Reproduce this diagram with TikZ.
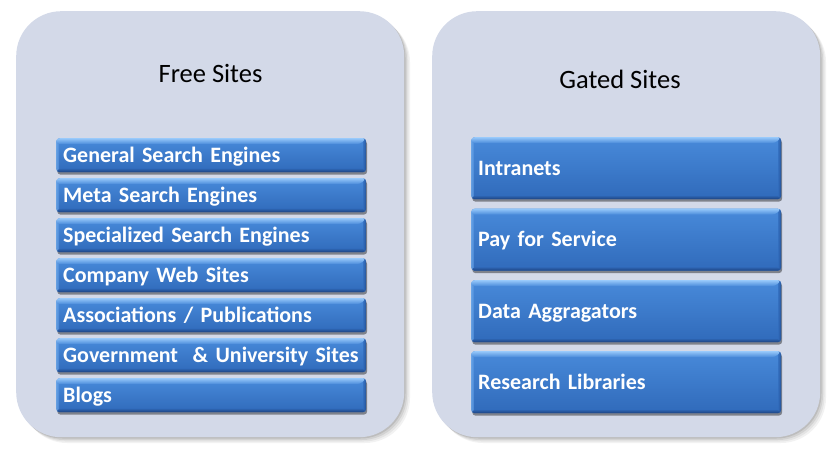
\documentclass[tikz,border=0pt]{standalone}
\usepackage{fontspec}
\setmainfont{Carlito}
\usetikzlibrary{shadows}
\definecolor{panelfill}{RGB}{211,217,232}
\definecolor{bartop}{RGB}{72,138,218}
\definecolor{barbot}{RGB}{48,106,186}
\definecolor{barlight}{RGB}{150,200,250}
\definecolor{bardark}{RGB}{28,66,128}
\tikzset{
  panel/.style={anchor=north west, fill=panelfill, rounded corners=45pt,
    minimum width=388pt, minimum height=426pt, inner sep=0pt},
  title/.style={anchor=base, font=\fontsize{26.5}{30}\selectfont, text=black, inner sep=0pt},
  bar/.style={anchor=north west, rounded corners=3.5pt, text=white,
    font=\bfseries\fontsize{22}{24}\selectfont, align=left,
    text height=14pt, text depth=0pt, inner xsep=7pt,
    drop shadow={shadow xshift=1pt, shadow yshift=-2.5pt, opacity=0.4, fill=black},
    path picture={
      \shade[top color=bartop, bottom color=barbot] (path picture bounding box.south west) rectangle (path picture bounding box.north east);
      \shade[left color=barlight!60!bartop, right color=bartop, opacity=0.7] (path picture bounding box.south west) rectangle ([xshift=3pt]path picture bounding box.north west);
      \shade[left color=barbot, right color=bardark, opacity=0.7] ([xshift=-3pt]path picture bounding box.south east) rectangle (path picture bounding box.north east);
      \shade[top color=barlight, bottom color=bartop] ([yshift=-6pt]path picture bounding box.north west) -- ([yshift=-6pt,xshift=-6pt]path picture bounding box.north east) -- (path picture bounding box.north east) -- (path picture bounding box.north west) -- cycle;
      \shade[top color=barbot, bottom color=bardark] (path picture bounding box.south west) -- (path picture bounding box.south east) -- ([yshift=4pt,xshift=-3pt]path picture bounding box.south east) -- ([yshift=4pt,xshift=3pt]path picture bounding box.south west) -- cycle;
    }},
  smallbar/.style={bar, minimum width=310pt, text width=296pt, inner ysep=10pt},
  bigbar/.style={bar, minimum width=310pt, text width=296pt, inner ysep=24pt},
}
\begin{document}
\begin{tikzpicture}[x=1pt,y=-1pt]
\useasboundingbox (0,0) rectangle (833,450);
% panel shadows
\foreach \o/\a in {6/0.05,4.5/0.06,3/0.08,1.5/0.10}{
  \fill[black, opacity=\a, rounded corners=45pt] (16+\o,11+\o) rectangle (404+\o,437+\o);
  \fill[black, opacity=\a, rounded corners=45pt] (432+\o,11+\o) rectangle (820+\o,437+\o);
}
\node[panel] (free) at (16,11) {};
\node[panel] (gated) at (432,11) {};
\node[title] (freetitle) at (210.5,82) {Free Sites};
\node[title] (gatedtitle) at (620,88) {Gated Sites};
% left bars
\node[smallbar] (f1) at (56,138) {General Search Engines};
\node[smallbar] (f2) at (56,178) {Meta Search Engines};
\node[smallbar] (f3) at (56,218) {Specialized Search Engines};
\node[smallbar] (f4) at (56,258) {Company Web Sites};
\node[smallbar] (f5) at (56,298) {Associations / Publications};
\node[smallbar] (f6) at (56,338) {Government\ \ \& University Sites};
\node[smallbar] (f7) at (56,378) {Blogs};
% right bars
\node[bigbar] (g1) at (471,137) {Intranets};
\node[bigbar] (g2) at (471,208.5) {Pay for Service};
\node[bigbar] (g3) at (471,280) {Data Aggragators};
\node[bigbar] (g4) at (471,351) {Research Libraries};
\end{tikzpicture}
\end{document}
